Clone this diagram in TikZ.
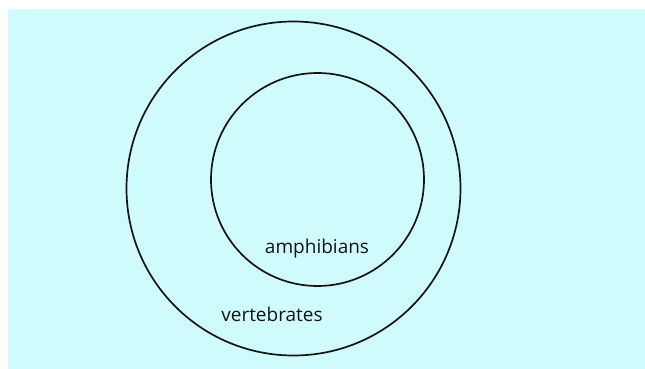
\documentclass[tikz,border=0pt]{standalone}
\usepackage{fontspec}
\setmainfont{Open Sans}
\definecolor{bgcyan}{RGB}{208,251,253}
\definecolor{ink}{RGB}{20,20,20}
\begin{document}
\begin{tikzpicture}[x=1pt,y=-1pt,
  ring/.style={draw=ink,line width=1.7pt},
  lbl/.style={font=\fontsize{19}{21}\selectfont,text=ink,inner sep=0pt}]
\useasboundingbox (0,0) rectangle (645,369);
\fill[bgcyan] (8,9) rectangle (645,369);
% set of vertebrates and its subset of amphibians
\node[ring,circle,minimum size=334pt,inner sep=0pt] (vert) at (293.5,188.5) {};
\node[ring,circle,minimum size=213pt,inner sep=0pt] (amph) at (317.5,179.5) {};
\node[lbl] (amphlbl) at (317,249) {amphibians};
\node[lbl] (vertlbl) at (272,314) {vertebrates};
\end{tikzpicture}
\end{document}
